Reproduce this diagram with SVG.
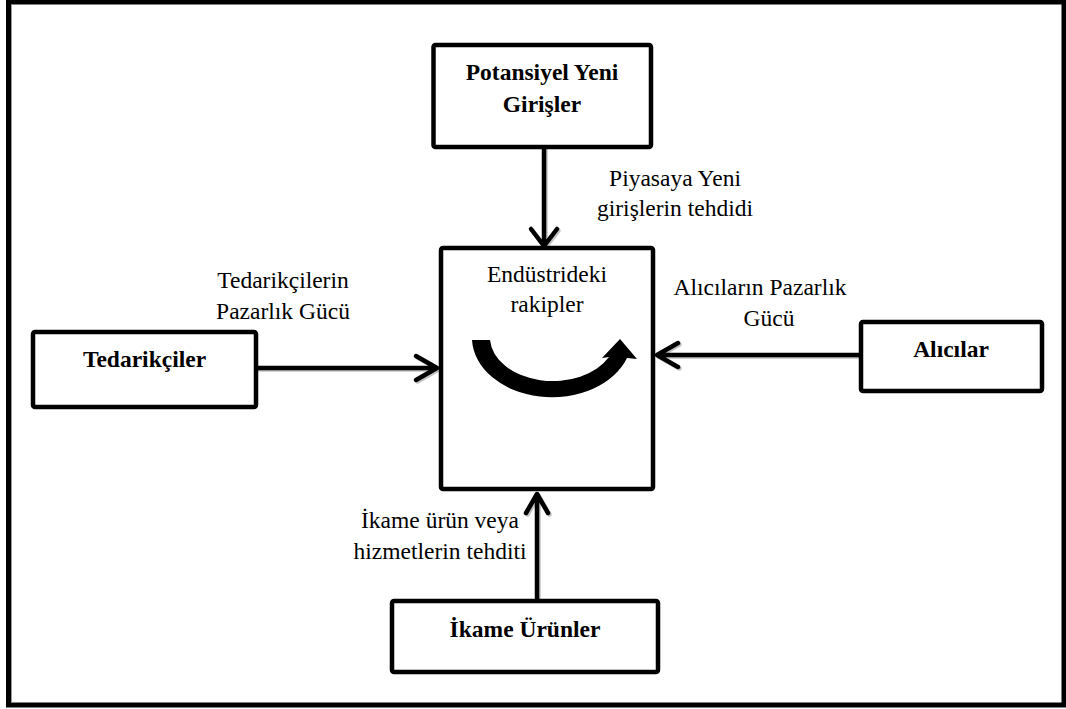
<svg xmlns="http://www.w3.org/2000/svg" width="1066" height="709" viewBox="0 0 1066 709">
<style>
.box{fill:#fff;stroke:#000;stroke-width:4.5;}
.bt{font-family:"Liberation Serif","Times New Roman",serif;font-weight:bold;font-size:23.5px;fill:#000;text-anchor:middle;}
.rt{font-family:"Liberation Serif","Times New Roman",serif;font-size:23.5px;fill:#000;text-anchor:middle;}
.ln{fill:none;stroke:#000;stroke-width:4.5;stroke-linecap:round;stroke-linejoin:round;}
.sh{fill:none;stroke:#9a9a9a;stroke-opacity:0.6;stroke-width:4.5;stroke-linecap:round;stroke-linejoin:round;}
</style>
<rect x="0" y="0" width="1066" height="709" fill="#fff"/>
<rect x="8.5" y="2" width="1055.5" height="703" fill="none" stroke="#000" stroke-width="5"/>
<line x1="11.5" y1="5" x2="11.5" y2="702" stroke="#999" stroke-width="1"/>

<g id="connectors">
  <g transform="translate(1.5,1.5)">
    <path class="sh" d="M544 149 L544 245 M531 229 L544 246 L557 229"/>
    <path class="sh" d="M258 368 L435 368 M416 356 L437 368 L416 380"/>
    <path class="sh" d="M859 355 L659 355 M678 343 L657 355 L678 367"/>
    <path class="sh" d="M537 599 L537 495 M526 513 L537 494 L548 513"/>
  </g>
  <path class="ln" d="M544 149 L544 245 M531 229 L544 246 L557 229"/>
  <path class="ln" d="M258 368 L435 368 M416 356 L437 368 L416 380"/>
  <path class="ln" d="M859 355 L659 355 M678 343 L657 355 L678 367"/>
  <path class="ln" d="M537 599 L537 495 M526 513 L537 494 L548 513"/>
  <text class="rt" x="675" y="186">Piyasaya Yeni</text>
  <text class="rt" x="675" y="216">girişlerin tehdidi</text>
  <text class="rt" x="283" y="288">Tedarikçilerin</text>
  <text class="rt" x="283" y="319">Pazarlık Gücü</text>
  <text class="rt" x="760" y="295">Alıcıların Pazarlık</text>
  <text class="rt" x="769" y="326">Gücü</text>
  <text class="rt" x="440" y="528">İkame ürün veya</text>
  <text class="rt" x="440" y="559">hizmetlerin tehditi</text>
</g>

<g id="node-potansiyel">
  <rect class="box" x="433.5" y="45" width="217.5" height="102" rx="2"/>
  <text class="bt" x="542" y="80">Potansiyel Yeni</text>
  <text class="bt" x="542" y="112">Girişler</text>
</g>

<g id="node-rakipler">
  <rect class="box" x="441" y="248" width="212" height="241" rx="2"/>
  <text class="rt" x="547" y="282">Endüstrideki</text>
  <text class="rt" x="547" y="312">rakipler</text>
  <path d="M472 340 L490 340 A63 44 0 0 0 609 357 L602 358 L620 339 L637 359 L627 358 A80 60 0 0 1 472 340 Z" fill="#000"/>
</g>

<g id="node-tedarikciler">
  <rect class="box" x="33" y="332" width="223" height="75" rx="2"/>
  <text class="bt" x="144.5" y="367">Tedarikçiler</text>
</g>

<g id="node-alicilar">
  <rect class="box" x="861" y="322" width="181" height="69" rx="2"/>
  <text class="bt" x="951" y="357">Alıcılar</text>
</g>

<g id="node-ikame">
  <rect class="box" x="392" y="601" width="266" height="71" rx="2"/>
  <text class="bt" x="525" y="637">İkame Ürünler</text>
</g>
</svg>
